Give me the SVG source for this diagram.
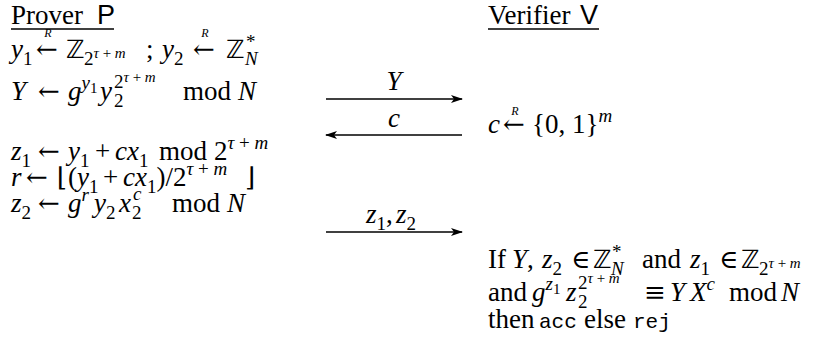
<svg xmlns="http://www.w3.org/2000/svg" width="827" height="343" viewBox="0 0 827 343">
<style>
text{font-family:'Liberation Serif','Times New Roman',serif;font-size:27px;fill:#000}
.i{font-style:italic}
.s{font-size:19px}
.ss{font-size:15px}
.r{font-size:12px;font-style:italic}
.m{font-family:'DejaVu Serif',serif;font-size:26px}
.z{font-family:'DejaVu Sans',sans-serif;font-size:25px}
.sf{font-family:'Liberation Sans',sans-serif}
.tt{font-family:'Liberation Mono',monospace;font-size:21px}
.ul{stroke:#000;stroke-width:1.3}
.msg{stroke:#000;stroke-width:1.6;fill:none}
</style>
<defs>
<marker id="ah" viewBox="0 0 12 8" refX="11" refY="4" markerWidth="12" markerHeight="8" markerUnits="userSpaceOnUse" orient="auto-start-reverse">
<path d="M0,0 L12,4 L0,8 L3,4 z" fill="#000"/>
</marker>
</defs>
<rect width="827" height="343" fill="#fff"/>
<g id="prover">
<text x="11" y="24">Prover<tspan class="sf" x="97">P</tspan></text>
<line class="ul" x1="11" y1="29" x2="114" y2="29"/>
<text x="11" y="58"><tspan class="i">y</tspan><tspan class="s" dy="7">1</tspan><tspan class="m" x="36" dy="-7">←</tspan><tspan class="z" x="66">ℤ</tspan><tspan class="s" x="84" dy="7">2</tspan><tspan class="ss" dy="-7"><tspan class="i">τ</tspan> + <tspan class="i">m</tspan></tspan><tspan x="146">;</tspan><tspan class="i" x="162">y</tspan><tspan class="s" dy="7">2</tspan><tspan class="m" x="193" dy="-7">←</tspan><tspan class="z" x="226">ℤ</tspan><tspan class="s" x="246" dy="-10">*</tspan><tspan class="s i" x="245" dy="17">N</tspan></text>
<text class="r" x="48" y="37" text-anchor="middle">R</text>
<text class="r" x="205" y="37" text-anchor="middle">R</text>
<text x="11" y="100"><tspan class="i">Y</tspan><tspan class="m" x="38">←</tspan><tspan class="i" x="68">g</tspan><tspan class="s i" dy="-11">y</tspan><tspan class="ss" dy="4">1</tspan><tspan class="i" x="100" dy="7">y</tspan><tspan class="s" x="114" dy="7">2</tspan><tspan class="s" x="114" dy="-19">2</tspan><tspan class="ss" dy="-6"><tspan class="i">τ</tspan> + <tspan class="i">m</tspan></tspan><tspan x="183" dy="18">mod</tspan><tspan class="i" x="238">N</tspan></text>
<text x="11" y="160"><tspan class="i">z</tspan><tspan class="s" dy="7">1</tspan><tspan class="m" x="38" dy="-7">←</tspan><tspan class="i" x="68">y</tspan><tspan class="s" dy="7">1</tspan><tspan x="95" dy="-7">+</tspan><tspan class="i" x="115">cx</tspan><tspan class="s" dy="7">1</tspan><tspan x="159" dy="-7">mod</tspan><tspan x="214">2</tspan><tspan class="s" dy="-11"><tspan class="i">τ</tspan> + <tspan class="i">m</tspan></tspan></text>
<text x="11" y="186"><tspan class="i">r</tspan><tspan class="m" x="26">←</tspan><tspan class="m" x="57">⌊</tspan><tspan x="68">(</tspan><tspan class="i">y</tspan><tspan class="s" dy="7">1</tspan><tspan x="103" dy="-7">+</tspan><tspan class="i" x="123">cx</tspan><tspan class="s" dy="7">1</tspan><tspan dy="-7">)/2</tspan><tspan class="s" dy="-11"><tspan class="i">τ</tspan> + <tspan class="i">m</tspan></tspan><tspan class="m" x="245" dy="11">⌋</tspan></text>
<text x="11" y="212"><tspan class="i">z</tspan><tspan class="s" dy="7">2</tspan><tspan class="m" x="38" dy="-7">←</tspan><tspan class="i" x="68">g</tspan><tspan class="s i" dy="-11">r</tspan><tspan class="i" x="94" dy="11">y</tspan><tspan class="s" dy="7">2</tspan><tspan class="i" x="119" dy="-7">x</tspan><tspan class="s" x="132" dy="7">2</tspan><tspan class="s i" x="133" dy="-19">c</tspan><tspan x="172" dy="12">mod</tspan><tspan class="i" x="227">N</tspan></text>
</g>
<g id="verifier">
<text x="488" y="24">Verifier<tspan class="sf" x="580">V</tspan></text>
<line class="ul" x1="488" y1="29" x2="599" y2="29"/>
<text x="488" y="133"><tspan class="i">c</tspan><tspan class="m" x="503">←</tspan><tspan x="532">{0, 1}</tspan><tspan class="s i" dy="-11">m</tspan></text>
<text class="r" x="515" y="115" text-anchor="middle">R</text>
<text x="488" y="268">If<tspan class="i" x="512">Y</tspan>,<tspan class="i" x="542">z</tspan><tspan class="s" dy="7">2</tspan><tspan class="m" x="571" dy="-7">∈</tspan><tspan class="z" x="593">ℤ</tspan><tspan class="s" x="612" dy="-10">*</tspan><tspan class="s i" x="611" dy="17">N</tspan><tspan x="642" dy="-7">and</tspan><tspan class="i" x="690">z</tspan><tspan class="s" dy="7">1</tspan><tspan class="m" x="719" dy="-7">∈</tspan><tspan class="z" x="741">ℤ</tspan><tspan class="s" x="759" dy="7">2</tspan><tspan class="ss" dy="-7"><tspan class="i">τ</tspan> + <tspan class="i">m</tspan></tspan></text>
<text x="488" y="301">and<tspan class="i" x="532">g</tspan><tspan class="s i" dy="-11">z</tspan><tspan class="ss" dy="4">1</tspan><tspan class="i" x="566" dy="7">z</tspan><tspan class="s" x="578" dy="7">2</tspan><tspan class="s" x="578" dy="-19">2</tspan><tspan class="ss" dy="-6"><tspan class="i">τ</tspan> + <tspan class="i">m</tspan></tspan><tspan class="m" x="644" dy="18">≡</tspan><tspan class="i" x="670">Y</tspan><tspan class="i" x="690">X</tspan><tspan class="s i" dy="-11">c</tspan><tspan x="729" dy="11">mod</tspan><tspan class="i" x="781">N</tspan></text>
<text x="488" y="328">then<tspan class="tt" x="539">acc</tspan><tspan x="584">else</tspan><tspan class="tt" x="633">rej</tspan></text>
</g>
<g id="connectors">
<line class="msg" x1="326" y1="99" x2="462" y2="99" marker-end="url(#ah)"/>
<line class="msg" x1="326" y1="135" x2="462" y2="135" marker-start="url(#ah)"/>
<line class="msg" x1="326" y1="232" x2="462" y2="232" marker-end="url(#ah)"/>
<text x="394" y="90" text-anchor="middle" class="i">Y</text>
<text x="394" y="127" text-anchor="middle" class="i">c</text>
<text x="366" y="223"><tspan class="i">z</tspan><tspan class="s" dy="7">1</tspan><tspan dy="-7">,</tspan><tspan class="i" x="396">z</tspan><tspan class="s" dy="7">2</tspan></text>
</g>
</svg>
